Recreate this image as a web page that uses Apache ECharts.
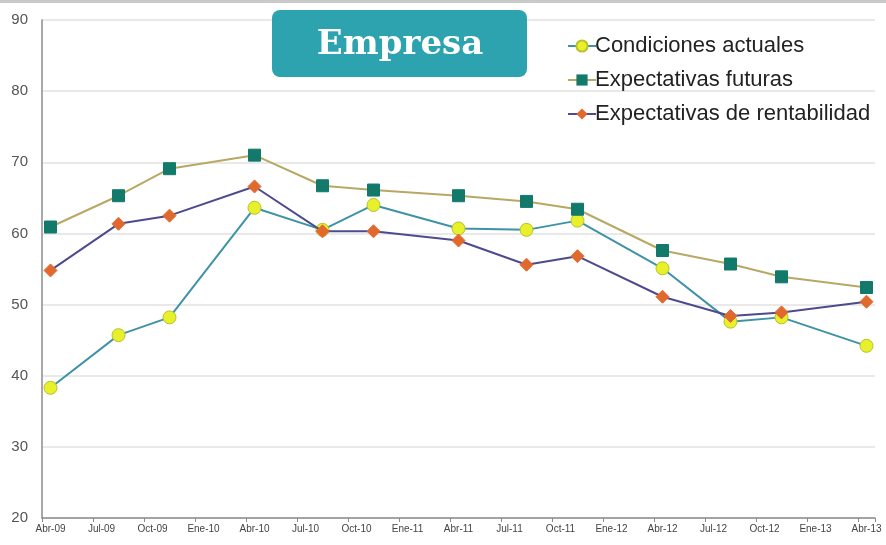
<!DOCTYPE html>
<html>
<head>
<meta charset="utf-8">
<script src="https://cdn.jsdelivr.net/npm/echarts@6/dist/echarts.min.js"></script>
<style>
html,body{margin:0;padding:0;background:#fff;}
#chart{width:886px;height:545px;}
</style>
</head>
<body>
<div id="chart"></div>
<script>
// Monthly category axis Abr-09 .. Abr-13
const monthNames = ['Ene','Feb','Mar','Abr','May','Jun','Jul','Ago','Sep','Oct','Nov','Dic'];
const startYear = 2009, startMonth = 3, monthCount = 49;
// Survey dates (points)
const surveyDates = ['Abr-09','Ago-09','Nov-09','Abr-10','Ago-10','Nov-10','Abr-11','Ago-11','Nov-11','Abr-12','Ago-12','Nov-12','Abr-13'];
const condicionesActuales = [38.3, 45.7, 48.2, 63.6, 60.5, 64.0, 60.7, 60.5, 61.8, 55.1, 47.6, 48.2, 44.2];
const expectativasFuturas = [60.9, 65.3, 69.1, 71.0, 66.7, 66.1, 65.3, 64.5, 63.4, 57.6, 55.7, 53.9, 52.4];
const expectativasRentabilidad = [54.8, 61.35, 62.5, 66.6, 60.3, 60.3, 59.0, 55.6, 56.8, 51.1, 48.4, 48.9, 50.4];
const seriesNames = ['Condiciones actuales','Expectativas futuras','Expectativas de rentabilidad'];
const titleText = 'Empresa';

const categories = [];
for (let i = 0; i < monthCount; i++) {
  const m = (startMonth + i) % 12;
  const y = startYear + Math.floor((startMonth + i) / 12);
  categories.push(monthNames[m] + '-' + String(y % 100).padStart(2, '0'));
}
const pairs = vals => surveyDates.map((d, i) => [d, vals[i]]);

const chart = echarts.init(document.getElementById('chart'), null, {renderer: 'canvas'});
chart.setOption({
  animation: false,
  backgroundColor: '#ffffff',
  textStyle: {fontFamily: '"Liberation Sans", Arial, sans-serif'},
  grid: {left: 42, right: 11, top: 20, bottom: 27, containLabel: false},
  legend: {
    orient: 'vertical',
    left: 562,
    top: 30,
    itemGap: 12,
    itemWidth: 28,
    itemHeight: 14,
    textStyle: {fontSize: 22, color: '#222', padding: [0,0,0,-6]},
    data: seriesNames
  },
  xAxis: {
    type: 'category',
    data: categories,
    boundaryGap: true,
    axisLine: {lineStyle: {color: '#8c8c8c', width: 1.5}},
    axisTick: {show: true, interval: 2, length: 4, lineStyle: {color: '#8c8c8c'}},
    axisLabel: {interval: 2, fontSize: 10, color: '#444', margin: 6, hideOverlap: false},
    splitLine: {show: false}
  },
  yAxis: {
    type: 'value',
    min: 20, max: 90, interval: 10,
    axisLine: {show: true, lineStyle: {color: '#8c8c8c', width: 1.5}},
    axisTick: {show: false},
    axisLabel: {fontSize: 15, color: '#555', margin: 14},
    splitLine: {lineStyle: {color: '#e2e2e2', width: 1.5}}
  },
  graphic: [
    {type: 'rect', x: 0, y: 0, shape: {width: 886, height: 3}, style: {fill: '#c9c9c9'}, z: 100},
    {type: 'rect', x: 272, y: 10, shape: {width: 255, height: 67, r: 8}, style: {fill: '#2da3b0'}, z: 100},
    {type: 'text', x: 400, y: 45, style: {text: titleText, align: 'center', verticalAlign: 'middle', fill: '#ffffff', font: 'bold 34px "DejaVu Serif", serif'}, z: 101}
  ],
  series: [
    {
      name: seriesNames[0], type: 'line', data: pairs(condicionesActuales),
      symbol: 'circle', symbolSize: 13, showAllSymbol: true,
      lineStyle: {color: '#3e93a6', width: 2},
      itemStyle: {color: '#e8f02c', borderColor: '#b8c22a', borderWidth: 1},
      z: 3
    },
    {
      name: seriesNames[1], type: 'line', data: pairs(expectativasFuturas),
      symbol: 'rect', symbolSize: 12, showAllSymbol: true,
      lineStyle: {color: '#b7a864', width: 2},
      itemStyle: {color: '#137a6b', borderColor: '#137a6b'},
      z: 4
    },
    {
      name: seriesNames[2], type: 'line', data: pairs(expectativasRentabilidad),
      symbol: 'diamond', symbolSize: 13, showAllSymbol: true,
      lineStyle: {color: '#4d4a8e', width: 2},
      itemStyle: {color: '#e2692e', borderColor: '#e2692e'},
      z: 5
    }
  ]
});
</script>
</body>
</html>
